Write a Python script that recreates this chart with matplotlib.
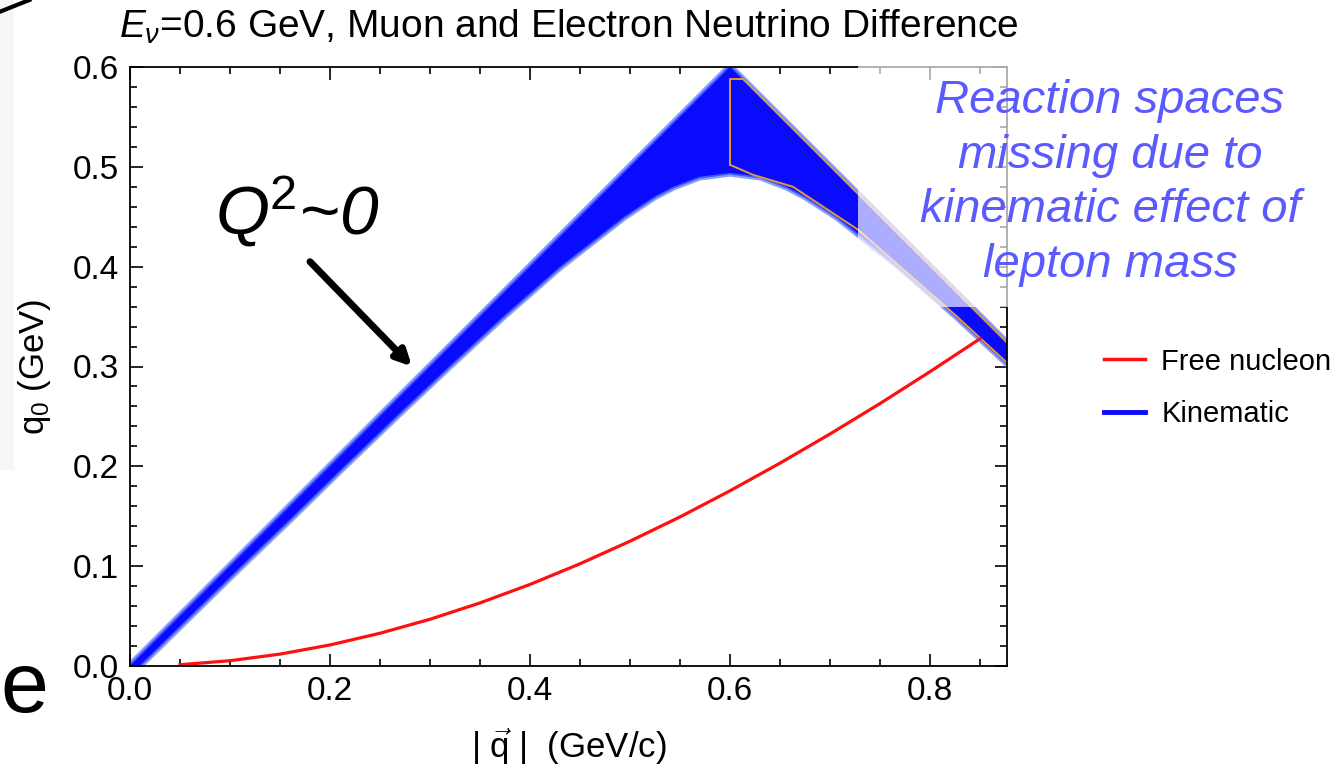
import matplotlib
matplotlib.use('Agg')
import matplotlib.pyplot as plt
from matplotlib.patches import Rectangle
from matplotlib.lines import Line2D

plt.rcParams['font.family'] = ['Liberation Sans', 'DejaVu Sans']
plt.rcParams['mathtext.fontset'] = 'custom'
plt.rcParams['mathtext.rm'] = 'Liberation Sans'
plt.rcParams['mathtext.it'] = 'Liberation Sans:italic'
plt.rcParams['mathtext.bf'] = 'Liberation Sans:bold'

# Kinematic band, upper edge (massless lepton limit)
upper_q = [0.0, 0.6, 0.881]
upper_q0 = [0.0, 0.6, 0.319]

# Kinematic band, lower edge (muon mass limit)
lower_q = [0.009, 0.060, 0.111, 0.163, 0.214, 0.266, 0.319, 0.373, 0.430,
           0.494, 0.524, 0.543, 0.569, 0.600, 0.631, 0.657, 0.676, 0.707,
           0.770, 0.827, 0.881]
lower_q0 = [0.0, 0.05, 0.10, 0.15, 0.20, 0.25, 0.30, 0.35, 0.40,
            0.45, 0.47, 0.48, 0.49, 0.494, 0.49, 0.48, 0.47, 0.45,
            0.40, 0.35, 0.30]

# Orange boundary of the right part of the band
orange_top_q = [0.600, 0.600, 0.613, 0.881]
orange_top_q0 = [0.502, 0.588, 0.588, 0.320]
orange_low_q = [0.600, 0.623, 0.663, 0.728, 0.770, 0.827, 0.881]
orange_low_q0 = [0.502, 0.492, 0.480, 0.437, 0.400, 0.350, 0.300]

# Free nucleon curve
free_q = [0.05, 0.10, 0.15, 0.20, 0.25, 0.30, 0.35, 0.40, 0.45, 0.50,
          0.55, 0.60, 0.65, 0.70, 0.75, 0.80, 0.85]
free_q0 = [0.0013, 0.0053, 0.0119, 0.0211, 0.0328, 0.0468, 0.0632, 0.0817,
           0.1024, 0.1250, 0.1493, 0.1755, 0.2032, 0.2324, 0.2629, 0.2948,
           0.3278]

x_ticks = [0.0, 0.2, 0.4, 0.6, 0.8]
y_ticks = [0.0, 0.1, 0.2, 0.3, 0.4, 0.5, 0.6]

fig = plt.figure(figsize=(13.36, 7.78), dpi=100)
ax = fig.add_axes([130 / 1336, 1 - 666 / 778, 877 / 1336, 599 / 778])

# band: soft light edge first, then the solid fill on top
band_q = upper_q + lower_q[::-1]
band_q0 = upper_q0 + lower_q0[::-1]
ax.fill(band_q, band_q0, facecolor='#0a0aff', edgecolor='#8c9cff',
        linewidth=5.5, zorder=2)
ax.fill(band_q, band_q0, facecolor='#0a0aff', edgecolor='#3c58ff',
        linewidth=2.5, zorder=2.02)
ax.fill(band_q, band_q0, facecolor='#0a0aff', edgecolor='none', zorder=2.05)
ax.plot(orange_top_q, orange_top_q0, color='#e09a3a', lw=1.4, zorder=2.1)
ax.plot(orange_low_q, orange_low_q0, color='#e09a3a', lw=1.4, zorder=2.1)
ax.plot(free_q, free_q0, color='#ff1010', lw=2.3, zorder=2.2)

ax.set_xlim(0, 0.877)
ax.set_ylim(0, 0.6)
ax.set_xticks(x_ticks)
ax.set_yticks(y_ticks)
ax.set_xticklabels([f'{v:.1f}' for v in x_ticks])
ax.set_yticklabels([f'{v:.1f}' for v in y_ticks])
ax.set_xticks([i * 0.05 for i in range(18)], minor=True)
ax.set_yticks([i * 0.02 for i in range(31)], minor=True)
ax.tick_params(which='both', direction='in', top=True, right=True,
               width=1.2, labelsize=24)
ax.tick_params(which='major', length=9)
ax.tick_params(which='minor', length=5)
ax.tick_params(axis='x', pad=7)
ax.tick_params(axis='y', pad=8)
for s in ax.spines.values():
    s.set_linewidth(1.3)

ax.set_title(r'$E_\nu$=0.6 GeV, Muon and Electron Neutrino Difference',
             fontsize=28, pad=21)
ax.set_xlabel(r'| $\mathrm{\vec{q}}$ |  (GeV/c)', fontsize=25, labelpad=14)
ax.set_ylabel(r'q$_0$ (GeV)', fontsize=25, labelpad=14)

# legend outside the axes
handles = [Line2D([], [], color='#ff1010', lw=2.5),
           Line2D([], [], color='#0a0aff', lw=3.5)]
ax.legend(handles, ['Free nucleon', 'Kinematic'], loc='center left',
          bbox_to_anchor=(1078 / 1336, 1 - 388 / 778),
          bbox_transform=fig.transFigure, frameon=False, fontsize=21,
          handlelength=1.4, handletextpad=0.55, labelspacing=0.85)

# Q^2 ~ 0 annotation with arrow
ax.text(0.085, 0.432, r'Q$^2$~0', fontsize=50, style='italic',
        color='black', zorder=5)
ax.annotate('', xy=(0.282, 0.300), xytext=(0.180, 0.405),
            arrowprops=dict(arrowstyle='-|>,head_length=0.9,head_width=0.45',
                            color='black', lw=5, shrinkA=0, shrinkB=0),
            zorder=5)

# white veil and note on the right
veil = Rectangle((858 / 1336, 1 - 307 / 778), 460 / 1336, 250 / 778,
                 transform=fig.transFigure, facecolor='white', alpha=0.67,
                 edgecolor='none', clip_on=False, zorder=3)
ax.add_patch(veil)
fig.text(1110 / 1336, 1 - 183 / 778,
         'Reaction spaces\nmissing due to\nkinematic effect of\nlepton mass',
         ha='center', va='center', fontsize=34, style='italic',
         color='#5a5aff', linespacing=1.32, zorder=6)

# slide remnants on the left edge
fig.patches.append(Rectangle((0, 1 - 470 / 778), 14 / 1336, 470 / 778,
                             transform=fig.transFigure, facecolor='#f6f6f6',
                             edgecolor='none', zorder=-1))
fig.text(0.0, 1 - 712 / 778, 'e', fontsize=62, color='black', va='baseline')
fig.add_artist(Line2D([0.0, 0.022], [0.985, 1.0], color='black', lw=3,
                      transform=fig.transFigure))

fig.savefig('out.png', dpi=100)
